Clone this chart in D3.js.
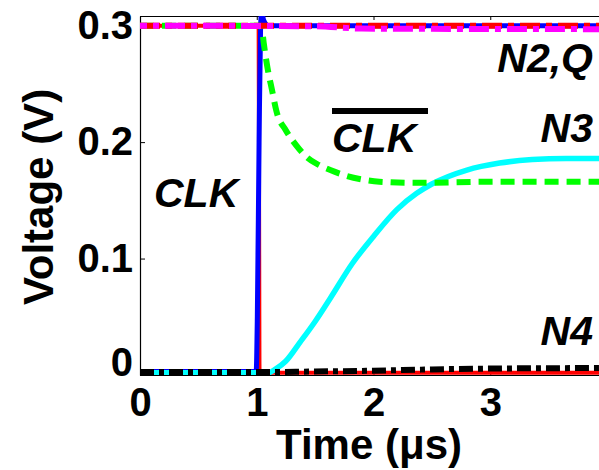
<!DOCTYPE html>
<html>
<head>
<meta charset="utf-8">
<script src="https://cdn.jsdelivr.net/npm/d3@7"></script>
<style>
  html, body { margin: 0; padding: 0; background: #fff; }
  svg { display: block; font-family: "Liberation Sans", Arial, sans-serif; }
</style>
</head>
<body>
<svg id="chart" width="599" height="470"></svg>
<script>
// Transient node voltages, time in microseconds, voltage in volts.
const clk    = [[0,0.003],[0.995,0.003],[1.005,0.05],[1.02,0.2],[1.033,0.3],[1.043,0.312],[1.058,0.305],[1.1,0.3],[4,0.3]];
const n1     = [[0,0.3],[1.016,0.3],[1.02,0.15],[1.024,0.002],[4,0.002]];
const n3     = [[0,0.002],[1.1,0.002],[1.16,0.005],[1.25,0.012],[1.37,0.028],[1.5,0.046],[1.63,0.066],[1.82,0.096],[2.0,0.119],[2.2,0.142],[2.37,0.156],[2.5,0.164],[2.8,0.176],[3.08,0.182],[3.36,0.185],[3.65,0.186],[4,0.186]];
const clkBar = [[0,0.3],[1.03,0.3],[1.045,0.297],[1.06,0.285],[1.09,0.265],[1.13,0.245],[1.17,0.226],[1.25,0.21],[1.34,0.197],[1.43,0.187],[1.52,0.181],[1.63,0.176],[1.77,0.171],[1.9,0.168],[2.05,0.166],[2.37,0.165],[3,0.166],[4,0.166]];
const q      = [[0,0.3],[4,0.3]];
const n2     = [[0,0.3],[1.5,0.2995],[1.9,0.2975],[4,0.297]];
const n4     = [[0,0.0025],[1,0.0025],[1.5,0.003],[2,0.0037],[2.5,0.0048],[3,0.0055],[4,0.006]];

const xTicks = [0, 1, 2, 3];
const yTicks = [0, 0.1, 0.2, 0.3];
const xDomain = [0, 4];
const yDomain = [0, 0.3083];

const svg = d3.select("#chart");
const plotLeft = 140, plotTop = 16, plotRight = 607, plotBottom = 375;

const x = d3.scaleLinear().domain(xDomain).range([plotLeft, plotRight]);
const y = d3.scaleLinear().domain(yDomain).range([plotBottom, plotTop]);

svg.append("defs").append("clipPath").attr("id", "plotClip")
  .append("rect").attr("x", plotLeft).attr("y", plotTop)
  .attr("width", plotRight - plotLeft).attr("height", plotBottom - plotTop);

// Axes box with inward ticks
const axisFont = "40px";
const gx = svg.append("g").attr("transform", `translate(0,${plotBottom})`)
  .call(d3.axisBottom(x).tickValues(xTicks).tickFormat(d3.format("d")).tickSizeInner(-5).tickSizeOuter(0).tickPadding(13));
const gxTop = svg.append("g").attr("transform", `translate(0,${plotTop})`)
  .call(d3.axisTop(x).tickValues(xTicks).tickFormat("").tickSizeInner(-4).tickSizeOuter(0));
const gy = svg.append("g").attr("transform", `translate(${plotLeft},0)`)
  .call(d3.axisLeft(y).tickValues(yTicks).tickFormat(d => d === 0 ? "0" : d3.format(".1f")(d)).tickSizeInner(-5).tickSizeOuter(0).tickPadding(7));

[gx, gxTop, gy].forEach(g => {
  g.select(".domain").attr("stroke", "#000").attr("stroke-width", 1.2);
  g.selectAll(".tick line").attr("stroke", "#000").attr("stroke-width", 1);
  g.selectAll("text").attr("font-size", axisFont).attr("font-weight", "bold").attr("fill", "#000")
    .attr("font-family", "'Liberation Sans', Arial, sans-serif");
});
// lift the zero label on the voltage axis clear of the time axis
gy.selectAll(".tick text").filter(d => d === 0).attr("dy", "0em");

// Traces
const line = d3.line().x(d => x(d[0])).y(d => y(d[1])).curve(d3.curveMonotoneX);
const traces = [
  { data: n1,     color: "#ff0000", width: 4,   dash: null },
  { data: clk,    color: "#0000ff", width: 5,   dash: null },
  { data: n3,     color: "#00ffff", width: 5.5, dash: null },
  { data: clkBar, color: "#00ff00", width: 6,   dash: "14,8" },
  { data: q,      color: "#ff0000", width: 6,   dash: "20,6,6,6", offset: 0 },
  { data: n2,     color: "#ff00ff", width: 6,   dash: "20,6,6,6", offset: 13 },
  { data: n4,     color: "#000000", width: 6,   dash: "14,5,5,5", offset: 0 }
];
const plot = svg.append("g").attr("clip-path", "url(#plotClip)");
traces.forEach(t => {
  plot.append("path").datum(t.data)
    .attr("d", line)
    .attr("fill", "none")
    .attr("stroke", t.color)
    .attr("stroke-width", t.width)
    .attr("stroke-dasharray", t.dash)
    .attr("stroke-dashoffset", t.offset || 0);
});

// Axis titles
svg.append("text").attr("x", 369).attr("y", 459)
  .attr("text-anchor", "middle").attr("font-size", "42px").attr("font-weight", "bold")
  .text("Time (μs)");
svg.append("text").attr("transform", "translate(53,197) rotate(-90)")
  .attr("text-anchor", "middle").attr("font-size", "42px").attr("font-weight", "bold")
  .text("Voltage (V)");

// Node labels
const labels = [
  { text: "N2,Q", x: 593, y: 72,  anchor: "end" },
  { text: "N3",   x: 593, y: 142, anchor: "end" },
  { text: "N4",   x: 593, y: 345, anchor: "end" },
  { text: "CLK",  x: 154, y: 207, anchor: "start" },
  { text: "CLK",  x: 332, y: 152, anchor: "start", bar: true }
];
labels.forEach(l => {
  svg.append("text").attr("x", l.x).attr("y", l.y)
    .attr("text-anchor", l.anchor).attr("font-size", "41px")
    .attr("font-weight", "bold").attr("font-style", "italic")
    .text(l.text);
  if (l.bar) {
    // complement bar over the inverted clock label
    svg.append("rect").attr("x", 332).attr("y", 108)
      .attr("width", 96).attr("height", 6).attr("fill", "#000");
  }
});
</script>
</body>
</html>
